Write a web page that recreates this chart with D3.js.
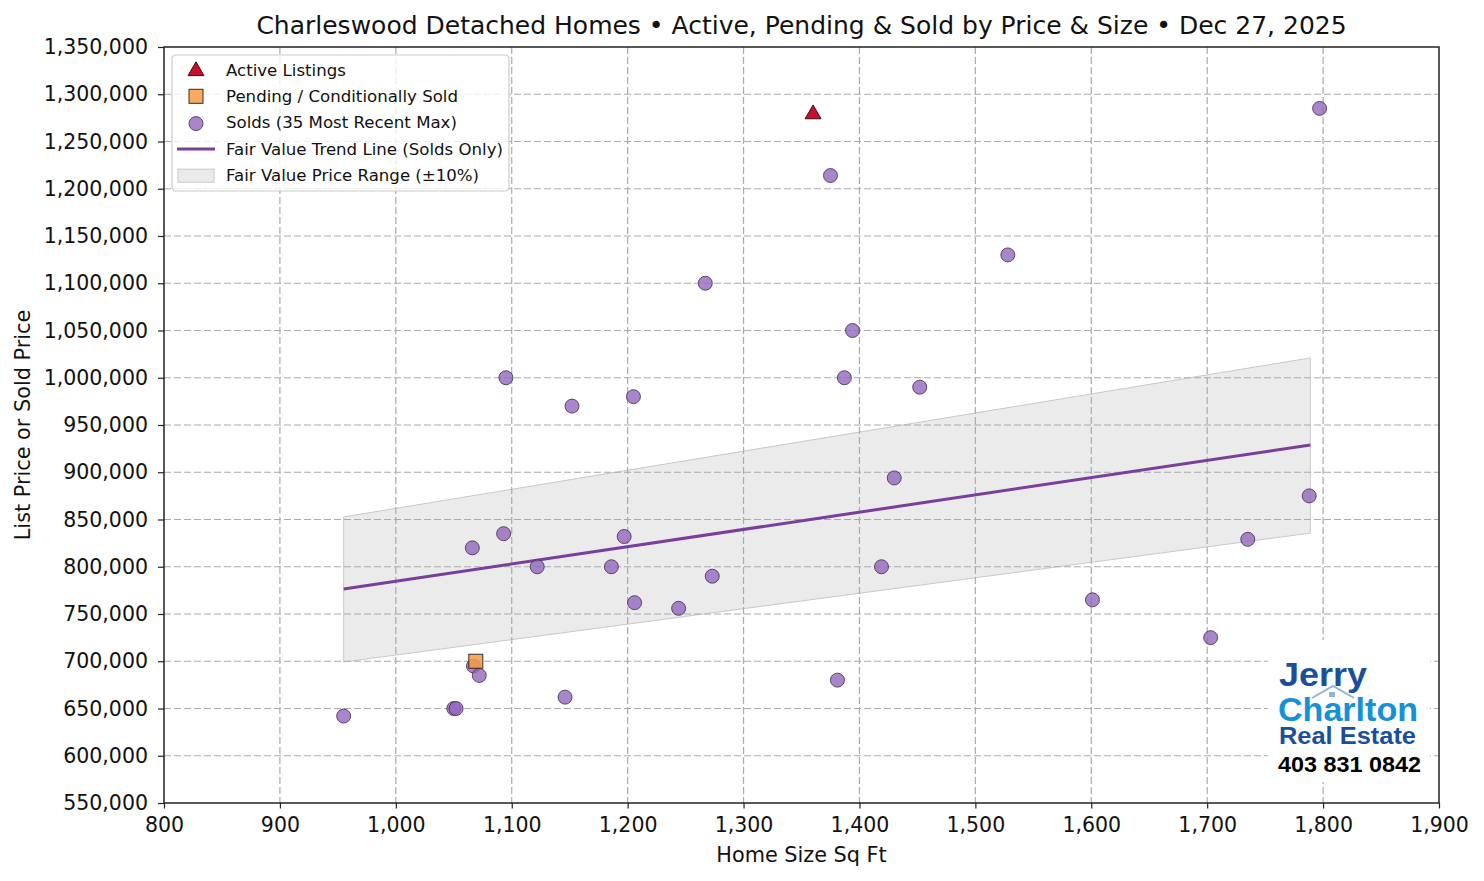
<!DOCTYPE html>
<html>
<head>
<meta charset="utf-8">
<script src="https://cdn.jsdelivr.net/npm/d3@7"></script>
<style>
  body { margin: 0; background: #fff; }
  svg text { font-family: "DejaVu Sans", sans-serif; }
</style>
</head>
<body>
<svg id="chart" width="1484" height="881"></svg>
<script>
// Solds (sq ft, price)
const soldSqft = [955, 1050, 1052, 1067, 1072, 1066, 1093, 1095, 1122, 1146, 1152, 1186, 1197, 1205, 1206, 1244,
  1267, 1273, 1375, 1381, 1387, 1394, 1419, 1430, 1452, 1528, 1601, 1703, 1735, 1788, 1797];
const soldPrice = [642000, 650000, 650000, 695000, 685000, 820000, 835000, 1000000, 800000, 662000, 970000, 800000,
  832000, 980000, 762000, 756000, 1100000, 790000, 1214000, 680000, 1000000, 1050000, 800000, 894000, 990000,
  1130000, 765000, 725000, 829000, 875000, 1285000];

// Active listings
const activeSqft = [1360];
const activePrice = [1280000];

// Pending / conditionally sold
const pendingSqft = [1069];
const pendingPrice = [700000];

// Fair value trend line and +/-10% range
const trendSqft = [955, 1789];
const trendPrice = [776500, 928800];
const bandUpper = [852700, 1021000];
const bandLower = [699200, 835600];

const xTicks = d3.range(800, 1901, 100);
const yTicks = d3.range(550000, 1350001, 50000);

const titleText = "Charleswood Detached Homes \u2022 Active, Pending & Sold by Price & Size \u2022 Dec 27, 2025";

const margin = { top: 47, right: 45, bottom: 78, left: 164 };
const width = 1484, height = 881;

const svg = d3.select("#chart");

const x = d3.scaleLinear().domain([800, 1900]).range([margin.left, width - margin.right]);
const y = d3.scaleLinear().domain([550000, 1350000]).range([height - margin.bottom, margin.top]);

const fmt = d3.format(",");

// Band
const bandData = trendSqft.map((s, i) => ({ s, lo: bandLower[i], hi: bandUpper[i] }));
svg.append("path")
  .datum(bandData)
  .attr("fill", "#d3d3d3")
  .attr("fill-opacity", 0.45)
  .attr("stroke", "#c8c8c8")
  .attr("stroke-width", 1)
  .attr("d", d3.area().x(d => x(d.s)).y0(d => y(d.lo)).y1(d => y(d.hi)));

// Grid
const grid = svg.append("g")
  .attr("stroke", "#aaaaaa")
  .attr("stroke-width", 1.2)
  .attr("stroke-dasharray", "7,3");
grid.selectAll(".gx").data(xTicks.slice(1, -1)).enter().append("line")
  .attr("x1", d => x(d)).attr("x2", d => x(d))
  .attr("y1", margin.top).attr("y2", height - margin.bottom);
grid.selectAll(".gy").data(yTicks.slice(1, -1)).enter().append("line")
  .attr("y1", d => y(d)).attr("y2", d => y(d))
  .attr("x1", margin.left).attr("x2", width - margin.right);

// Logo box (white, covers grid)
const logo = svg.append("g").attr("transform", "translate(1268, 640)");
logo.append("rect").attr("width", 162).attr("height", 142).attr("fill", "#fff");
logo.append("text").attr("x", 11).attr("y", 46)
  .style("font-family", "'Liberation Sans', Arial, sans-serif")
  .attr("font-weight", "bold").attr("font-size", 33).attr("fill", "#1b4f9c")
  .attr("textLength", 88).attr("lengthAdjust", "spacingAndGlyphs")
  .text("Jerry");
logo.append("text").attr("x", 10).attr("y", 81)
  .style("font-family", "'Liberation Sans', Arial, sans-serif")
  .attr("font-weight", "bold").attr("font-size", 33).attr("fill", "#1591d4")
  .attr("textLength", 140).attr("lengthAdjust", "spacingAndGlyphs")
  .text("Charlton");
logo.append("path")
  .attr("d", "M44,58 L65,46 L86,58")
  .attr("fill", "none").attr("stroke", "#8fb5dc").attr("stroke-width", 2);
logo.append("rect").attr("x", 61).attr("y", 52).attr("width", 6).attr("height", 5)
  .attr("fill", "#8fb5dc");
logo.append("text").attr("x", 11).attr("y", 104)
  .style("font-family", "'Liberation Sans', Arial, sans-serif")
  .attr("font-weight", "bold").attr("font-size", 24).attr("fill", "#1b4f9c")
  .attr("textLength", 137).attr("lengthAdjust", "spacingAndGlyphs")
  .text("Real Estate");
logo.append("text").attr("x", 10).attr("y", 132)
  .style("font-family", "'Liberation Sans', Arial, sans-serif")
  .attr("font-weight", "bold").attr("font-size", 22).attr("fill", "#000")
  .attr("textLength", 143).attr("lengthAdjust", "spacingAndGlyphs")
  .text("403 831 0842");

// Trend line
svg.append("path")
  .datum(trendSqft.map((s, i) => ({ s, p: trendPrice[i] })))
  .attr("fill", "none")
  .attr("stroke", "#7a3e9d")
  .attr("stroke-width", 3)
  .attr("d", d3.line().x(d => x(d.s)).y(d => y(d.p)));

// Solds
svg.append("g").selectAll("circle")
  .data(soldSqft.map((s, i) => ({ s, p: soldPrice[i] })))
  .enter().append("circle")
  .attr("cx", d => x(d.s)).attr("cy", d => y(d.p))
  .attr("r", 7)
  .attr("fill", "#9467bd").attr("fill-opacity", 0.8)
  .attr("stroke", "#3d2a50").attr("stroke-opacity", 0.8).attr("stroke-width", 1);

// Pending
svg.append("g").selectAll("rect")
  .data(pendingSqft.map((s, i) => ({ s, p: pendingPrice[i] })))
  .enter().append("rect")
  .attr("x", d => x(d.s) - 7).attr("y", d => y(d.p) - 7)
  .attr("width", 14).attr("height", 14)
  .attr("fill", "#f89a45").attr("fill-opacity", 0.85)
  .attr("stroke", "#3a2a20").attr("stroke-width", 1);

// Active
const tri = d3.symbol().type(d3.symbolTriangle).size(110);
svg.append("g").selectAll("path")
  .data(activeSqft.map((s, i) => ({ s, p: activePrice[i] })))
  .enter().append("path")
  .attr("transform", d => `translate(${x(d.s)},${y(d.p) + 1})`)
  .attr("d", tri)
  .attr("fill", "#c8102e")
  .attr("stroke", "#3a1010").attr("stroke-width", 1);

// Axes
const xAxis = svg.append("g")
  .attr("transform", `translate(0,${height - margin.bottom})`)
  .call(d3.axisBottom(x).tickValues(xTicks).tickFormat(fmt).tickSizeOuter(0).tickSize(5.5).tickPadding(9));
const yAxis = svg.append("g")
  .attr("transform", `translate(${margin.left},0)`)
  .call(d3.axisLeft(y).tickValues(yTicks).tickFormat(fmt).tickSizeOuter(0).tickSize(6).tickPadding(10));
[xAxis, yAxis].forEach(a => {
  a.select(".domain").remove();
  a.selectAll("line").attr("stroke", "#222").attr("stroke-width", 1.2);
  a.selectAll("text").attr("font-size", 20.5).attr("fill", "#111")
    .style("font-family", "'DejaVu Sans', sans-serif");
});

// Spines
svg.append("rect")
  .attr("x", margin.left).attr("y", margin.top)
  .attr("width", width - margin.left - margin.right)
  .attr("height", height - margin.top - margin.bottom)
  .attr("fill", "none").attr("stroke", "#222").attr("stroke-width", 1.5);

// Legend
const legend = svg.append("g").attr("transform", "translate(172,55)");
legend.append("rect").attr("width", 337).attr("height", 136).attr("rx", 4)
  .attr("fill", "#fff").attr("fill-opacity", 0.8)
  .attr("stroke", "#cccccc").attr("stroke-width", 1.2);
const legendItems = [
  "Active Listings",
  "Pending / Conditionally Sold",
  "Solds (35 Most Recent Max)",
  "Fair Value Trend Line (Solds Only)",
  "Fair Value Price Range (\u00b110%)"
];
legendItems.forEach((t, i) => {
  const ly = 15 + i * 26.3;
  const g = legend.append("g").attr("transform", `translate(0,${ly})`);
  if (i === 0) {
    g.append("path").attr("transform", "translate(24,1)").attr("d", tri)
      .attr("fill", "#c8102e").attr("stroke", "#3a1010").attr("stroke-width", 1);
  } else if (i === 1) {
    g.append("rect").attr("x", 17).attr("y", -7).attr("width", 14).attr("height", 14)
      .attr("fill", "#f89a45").attr("fill-opacity", 0.85).attr("stroke", "#3a2a20");
  } else if (i === 2) {
    g.append("circle").attr("cx", 24).attr("cy", 1).attr("r", 7)
      .attr("fill", "#9467bd").attr("fill-opacity", 0.8)
      .attr("stroke", "#3d2a50").attr("stroke-opacity", 0.8);
  } else if (i === 3) {
    g.append("line").attr("x1", 5).attr("x2", 43).attr("y1", 0).attr("y2", 0)
      .attr("stroke", "#7a3e9d").attr("stroke-width", 3);
  } else {
    g.append("rect").attr("x", 6).attr("y", -6).attr("width", 36).attr("height", 13)
      .attr("fill", "#d3d3d3").attr("fill-opacity", 0.45).attr("stroke", "#c8c8c8");
  }
  g.append("text").attr("x", 54).attr("y", 0).attr("dy", "0.35em")
    .attr("font-size", 16.6).attr("fill", "#111").text(t);
});

// Title and axis labels
svg.append("text")
  .attr("x", (margin.left + width - margin.right) / 2).attr("y", 34)
  .attr("text-anchor", "middle").attr("font-size", 25).attr("fill", "#111")
  .text(titleText);
svg.append("text")
  .attr("x", (margin.left + width - margin.right) / 2).attr("y", 862)
  .attr("text-anchor", "middle").attr("font-size", 20.8).attr("fill", "#111")
  .text("Home Size Sq Ft");
svg.append("text")
  .attr("transform", `translate(30,${(margin.top + height - margin.bottom) / 2}) rotate(-90)`)
  .attr("text-anchor", "middle").attr("font-size", 20.8).attr("fill", "#111")
  .text("List Price or Sold Price");
</script>
</body>
</html>
